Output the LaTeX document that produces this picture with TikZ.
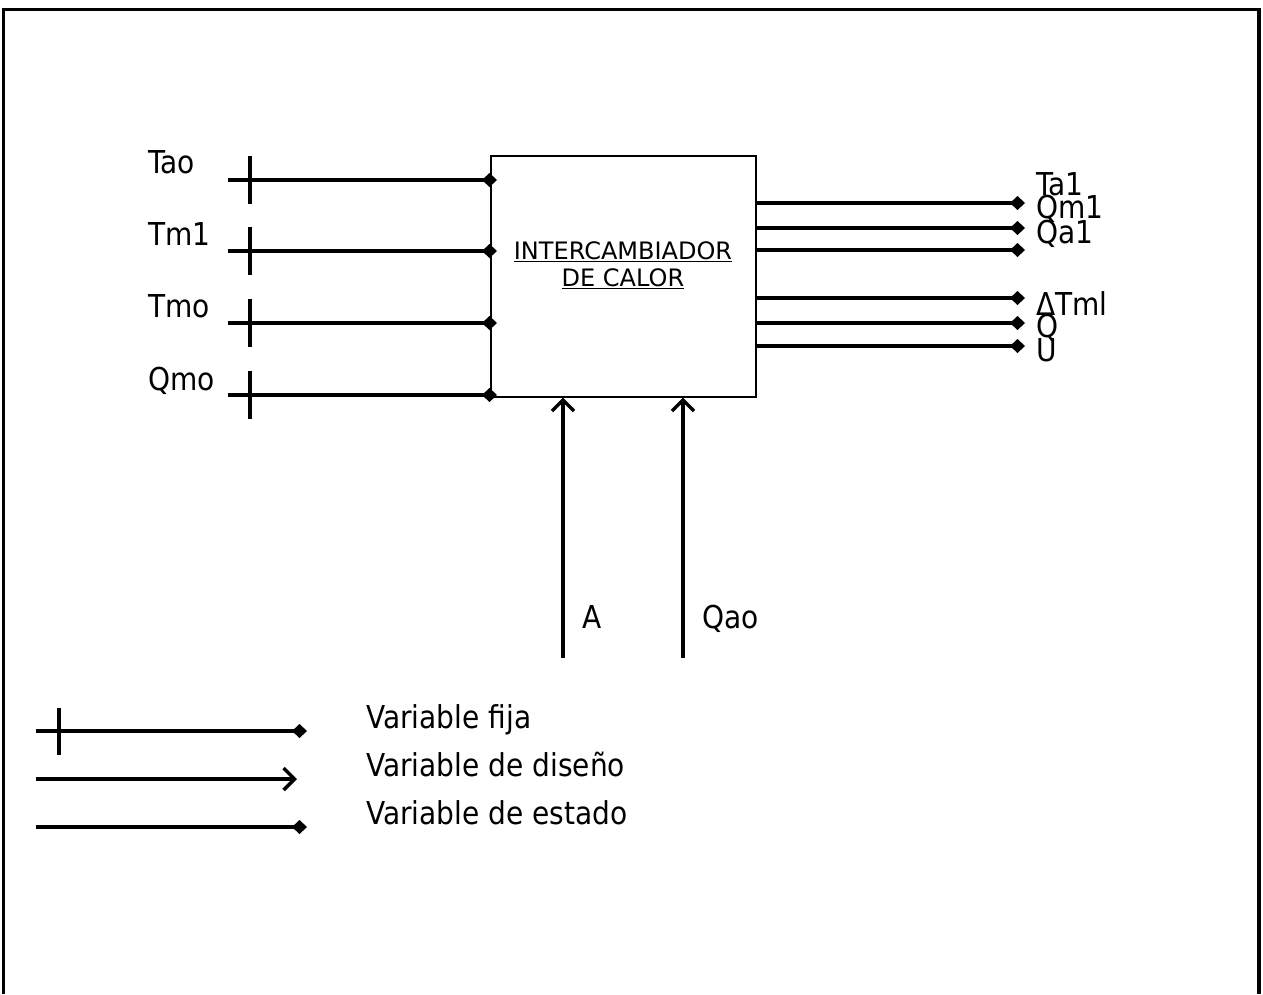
\documentclass[tikz,border=0pt]{standalone}
\usepackage{fontspec}
\setmainfont{DejaVu Sans}
\newfontfamily\lblfont[FakeStretch=0.89]{DejaVu Sans}
\usetikzlibrary{arrows.meta}
\begin{document}
\begin{tikzpicture}[x=1pt,y=-1pt,
  conn/.style={line width=3.4pt},
  dia/.style={-{Diamond[length=15pt,width=14pt]}},
  barb/.style={-{Straight Barb[length=11pt,width=22pt]}},
  lbl/.style={font=\lblfont\fontsize{31.5}{36}\selectfont, inner sep=0pt, anchor=base west},
  tickmark/.style={line width=3.4pt}]
\useasboundingbox (0,0) rectangle (1263,994);
% frame
\draw[line width=3.5pt] (3.5,994) -- (3.5,9.5) -- (1259,9.5) -- (1259,994);
% box
\node[draw, line width=1.6pt, minimum width=265pt, minimum height=241pt, anchor=north west, inner sep=0pt] (hx) at (490,155) {};
\node[align=center, font=\fontsize{24}{27}\selectfont, inner sep=0pt, anchor=base] (hxt) at (623,286) {\underline{INTERCAMBIADOR}\\\underline{DE CALOR}};
% inputs
\coordinate (i1) at (228,180);
\coordinate (i2) at (228,251);
\coordinate (i3) at (228,323);
\coordinate (i4) at (228,395);
\foreach \c in {i1,i2,i3,i4}{
  \draw[conn,dia,shorten >=-7pt] (\c) -- (\c -| hx.west);
  \draw[tickmark] ([xshift=22pt,yshift=24pt]\c) -- ([xshift=22pt,yshift=-24pt]\c);
}
\node[lbl] (l1) at (148,173) {Tao};
\node[lbl] (l2) at (148,245) {Tm1};
\node[lbl] (l3) at (148,317) {Tmo};
\node[lbl] (l4) at (148,390) {Qmo};
% outputs
\coordinate (o1) at (1025,203);
\coordinate (o2) at (1025,228);
\coordinate (o3) at (1025,250);
\coordinate (o4) at (1025,298);
\coordinate (o5) at (1025,323);
\coordinate (o6) at (1025,346);
\foreach \c in {o1,o2,o3,o4,o5,o6}{
  \draw[conn,dia] (\c -| hx.east) -- (\c);
}
\node[lbl] (r1) at (1036,195) {Ta1};
\node[lbl] (r2) at (1036,218) {Qm1};
\node[lbl] (r3) at (1036,243) {Qa1};
\node[lbl] (r4) at (1036,315) {ΔTml};
\node[lbl] (r5) at (1036,337) {Q};
\node[lbl] (r6) at (1036,361) {U};
% bottom design variables
\coordinate (b1) at (563,658);
\coordinate (b2) at (683,658);
\draw[conn,barb] (b1) -- (b1 |- hx.south);
\draw[conn,barb] (b2) -- (b2 |- hx.south);
\node[lbl] (la) at (582,628) {A};
\node[lbl] (lq) at (702,628) {Qao};
% legend
\coordinate (g1a) at (36,731); \coordinate (g1b) at (300,731);
\coordinate (g2a) at (36,779); \coordinate (g2b) at (297,779);
\coordinate (g3a) at (36,827); \coordinate (g3b) at (300,827);
\draw[conn,dia,shorten >=-7pt] (g1a) -- (g1b);
\draw[tickmark] (59,708) -- (59,755);
\draw[conn,barb] (g2a) -- (g2b);
\draw[conn,dia,shorten >=-7pt] (g3a) -- (g3b);
\node[lbl] (t1) at (366,728) {Variable fija};
\node[lbl] (t2) at (366,776) {Variable de diseño};
\node[lbl] (t3) at (366,824) {Variable de estado};
\end{tikzpicture}
\end{document}
